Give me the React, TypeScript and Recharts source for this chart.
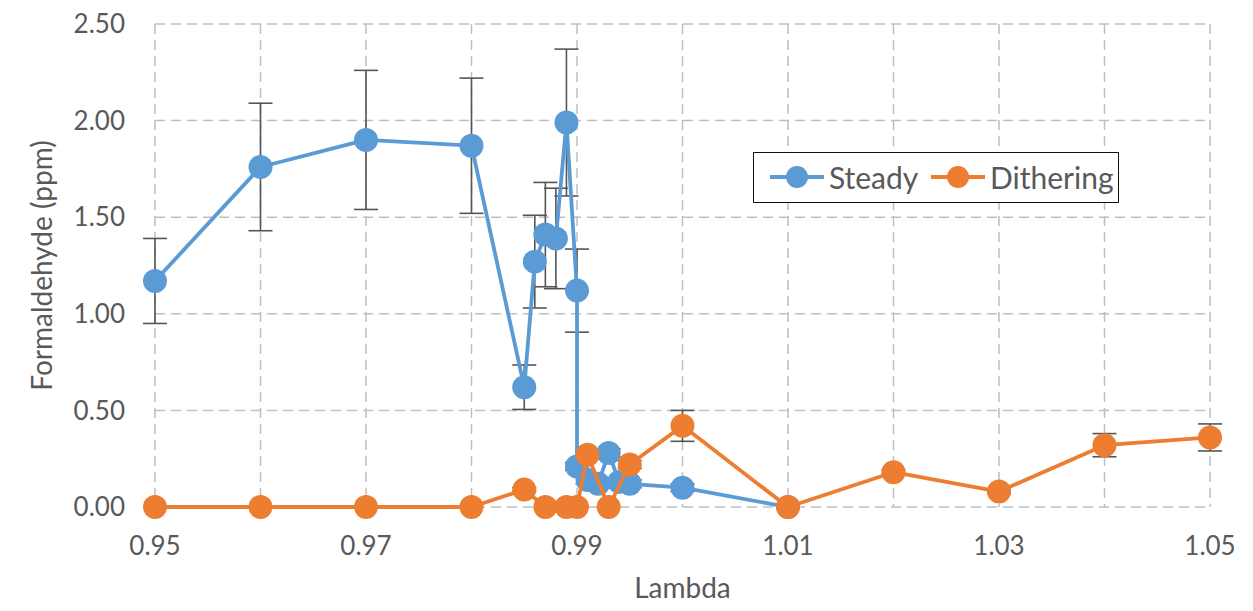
import React from "react";
import {
  ScatterChart,
  Scatter,
  XAxis,
  YAxis,
  CartesianGrid,
  ErrorBar,
  Legend,
} from "recharts";

// Steady operation
const steadyLambda = [
  0.95, 0.96, 0.97, 0.98, 0.985, 0.986, 0.987, 0.988, 0.989, 0.99, 0.99,
  0.991, 0.992, 0.993, 0.994, 0.995, 1.0, 1.01,
];
const steadyPpm = [
  1.17, 1.76, 1.9, 1.87, 0.62, 1.27, 1.41, 1.39, 1.99, 1.12, 0.21, 0.14, 0.12,
  0.28, 0.13, 0.12, 0.1, 0.0,
];
const steadyErr = [
  0.22, 0.33, 0.36, 0.35, 0.115, 0.24, 0.27, 0.26, 0.38, 0.215, 0.02, 0.02,
  0.02, 0.02, 0.02, 0.02, 0.02, 0,
];

// Dithering operation
const ditherLambda = [
  0.95, 0.96, 0.97, 0.98, 0.985, 0.987, 0.989, 0.99, 0.991, 0.993, 0.995, 1.0,
  1.01, 1.02, 1.03, 1.04, 1.05,
];
const ditherPpm = [
  0, 0, 0, 0, 0.09, 0, 0, 0, 0.27, 0, 0.22, 0.42, 0, 0.18, 0.08, 0.32, 0.36,
];
const ditherErr = [
  0, 0, 0, 0, 0.01, 0, 0, 0, 0.02, 0, 0.02, 0.08, 0, 0.01, 0.01, 0.06, 0.07,
];

const xTicks = [0.95, 0.97, 0.99, 1.01, 1.03, 1.05];
const xGrid = [0.95, 0.96, 0.97, 0.98, 0.99, 1.0, 1.01, 1.02, 1.03, 1.04, 1.05];
const yTicks = [0, 0.5, 1.0, 1.5, 2.0, 2.5];

const BLUE = "#5B9BD5";
const ORANGE = "#ED7D31";
const TEXT = "#595959";
const FONT = "Lato, 'Open Sans', sans-serif";

const steady = steadyLambda.map((x, i) => ({ x, y: steadyPpm[i], err: steadyErr[i] }));
const dithering = ditherLambda.map((x, i) => ({ x, y: ditherPpm[i], err: ditherErr[i] }));

const dot = (color: string) => (props: any) =>
  <circle cx={props.cx} cy={props.cy} r={12} fill={color} />;

// connect points in data order, same as the spreadsheet's "scatter with lines"
const joint = (color: string) => (props: any) => (
  <polyline
    points={(props.points || []).map((p: any) => `${p.x},${p.y}`).join(" ")}
    fill="none"
    stroke={color}
    strokeWidth={3.8}
    strokeLinejoin="round"
  />
);

const LegendMarker = ({ color }: { color: string }) => (
  <svg width={54} height={24} style={{ display: "block" }}>
    <line x1={0} y1={12} x2={54} y2={12} stroke={color} strokeWidth={3.8} />
    <circle cx={27} cy={12} r={11} fill={color} />
  </svg>
);

const renderLegend = () => (
  <div
    style={{
      position: "relative",
      width: 366,
      height: 51,
      boxSizing: "border-box",
      border: "1.5px solid #111",
      background: "#fff",
      fontFamily: FONT,
      fontSize: 30,
      color: TEXT,
    }}
  >
    {[
      { name: "Steady", color: BLUE, left: 16 },
      { name: "Dithering", color: ORANGE, left: 177 },
    ].map((it) => (
      <div
        key={it.name}
        style={{
          position: "absolute",
          left: it.left,
          top: 0,
          height: 48,
          display: "flex",
          alignItems: "center",
          gap: 5,
        }}
      >
        <LegendMarker color={it.color} />
        <span>{it.name}</span>
      </div>
    ))}
  </div>
);

export default function App() {
  return (
    <div
      style={{
        position: "relative",
        width: 1253,
        height: 611,
        margin: -8,
        overflow: "hidden",
        background: "#fff",
      }}
    >
      <div
        style={{
          position: "absolute",
          left: 7,
          top: 5,
          width: 1260,
          height: 620,
          border: "1px solid #d9d9d9",
        }}
      />
      <ScatterChart
        width={1253}
        height={611}
        margin={{ top: 24, right: 43, left: 0, bottom: 0 }}
        style={{ position: "absolute", left: 0, top: 0 }}
      >
        <CartesianGrid
          stroke="#bfbfbf"
          strokeWidth={1.5}
          strokeDasharray="10 6"
          verticalValues={xGrid}
          horizontalValues={yTicks}
        />
        <XAxis
          type="number"
          dataKey="x"
          domain={[0.95, 1.05]}
          ticks={xTicks}
          tickFormatter={(v: number) => v.toFixed(2)}
          axisLine={false}
          tickLine={false}
          tickSize={0}
          tickMargin={30}
          height={104}
          tick={{ fill: TEXT, fontSize: 26, fontFamily: FONT }}
          label={{
            value: "Lambda",
            position: "center",
            dy: 29,
            fill: TEXT,
            fontSize: 28,
            fontFamily: FONT,
          }}
        />
        <YAxis
          type="number"
          dataKey="y"
          domain={[0, 2.5]}
          ticks={yTicks}
          tickFormatter={(v: number) => v.toFixed(2)}
          axisLine={false}
          tickLine={false}
          tickSize={0}
          tickMargin={30}
          width={155}
          tick={{ fill: TEXT, fontSize: 26, fontFamily: FONT }}
          label={{
            value: "Formaldehyde (ppm)",
            angle: -90,
            position: "center",
            dx: -35,
            fill: TEXT,
            fontSize: 28,
            fontFamily: FONT,
          }}
        />
        <Legend
          layout="vertical"
          align="center"
          verticalAlign="middle"
          content={renderLegend}
          wrapperStyle={{ left: 753, top: 152, width: 366, height: 51 }}
        />
        <Scatter
          name="Steady"
          data={steady}
          line={joint(BLUE)}
          shape={dot(BLUE)}
          isAnimationActive={false}
        >
          <ErrorBar dataKey="err" direction="y" width={12} stroke="#555" strokeWidth={1.6} />
        </Scatter>
        <Scatter
          name="Dithering"
          data={dithering}
          line={joint(ORANGE)}
          shape={dot(ORANGE)}
          isAnimationActive={false}
        >
          <ErrorBar dataKey="err" direction="y" width={12} stroke="#555" strokeWidth={1.6} />
        </Scatter>
      </ScatterChart>
    </div>
  );
}
